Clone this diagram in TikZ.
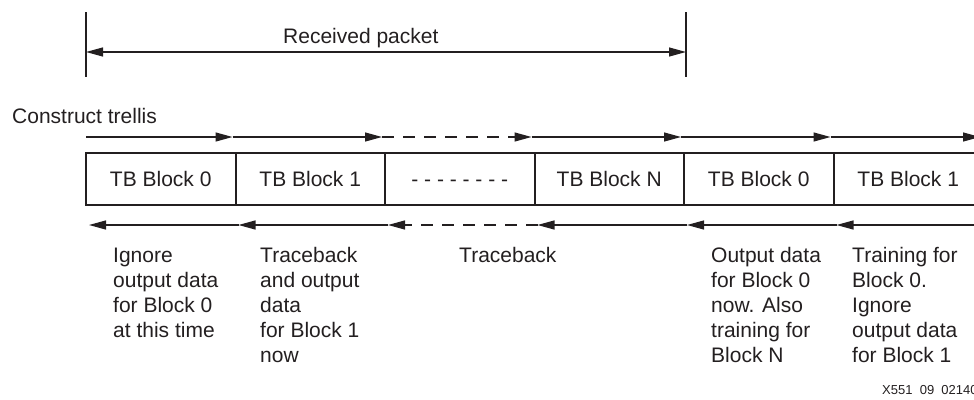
\documentclass[tikz,border=0pt]{standalone}
\usepackage{fontspec}
\setmainfont{Liberation Sans}
\usetikzlibrary{arrows.meta}
\definecolor{ink}{HTML}{231F20}
\begin{document}
\begin{tikzpicture}[x=1pt,y=-1pt,
  every node/.style={text=ink, inner sep=0pt},
  lbl/.style={font=\fontsize{21}{25}\selectfont},
  blockbox/.style={draw=ink, line width=2pt, minimum width=149.5pt,
    minimum height=52pt, lbl, text height=15pt, text depth=0pt},
  flow/.style={draw=ink, line width=1.2pt, -{Triangle[length=17pt,width=9pt]}},
  flowgap/.style={flow, dash pattern=on 12pt off 9pt},
  bar/.style={draw=ink, line width=2pt},
  note/.style={lbl, align=left, anchor=north west},
]
\useasboundingbox (0,0) rectangle (974,399);

% Received packet span
\coordinate (rpl) at (86,52);
\coordinate (rpr) at (686,52);
\draw[bar] ([yshift=40pt]rpl) -- ([yshift=-25pt]rpl);
\draw[bar] ([yshift=40pt]rpr) -- ([yshift=-25pt]rpr);
\draw[draw=ink, line width=1.2pt,
  {Triangle[length=17pt,width=9pt]}-{Triangle[length=17pt,width=9pt]}] (rpl) -- (rpr);
\node[lbl, anchor=base west] (rp) at (283,43) {Received packet};

% Trellis construction (forward direction)
\node[lbl, anchor=base west] (ct) at (12,123) {Construct trellis};
\coordinate (t0) at (86,137);
\coordinate (t1) at (232.5,137);
\coordinate (t2) at (382,137);
\coordinate (t3) at (531.5,137);
\coordinate (t4) at (681,137);
\coordinate (t5) at (830.5,137);
\coordinate (t6) at (980,137);
\draw[flow] (t0) -- (t1);
\draw[flow] (t1) -- (t2);
\draw[flowgap] (t2) -- (t3);
\draw[flow] (t3) -- (t4);
\draw[flow] (t4) -- (t5);
\draw[flow] (t5) -- (t6);

% Traceback blocks
\node[blockbox] (b0) at (160.75,179) {TB Block 0};
\node[blockbox] (b1) at (310.25,179) {TB Block 1};
\node[blockbox] (b2) at (459.75,179) {- - - - - - - -};
\node[blockbox] (b3) at (609.25,179) {TB Block N};
\node[blockbox] (b4) at (758.75,179) {TB Block 0};
\node[blockbox] (b5) at (908.25,179) {TB Block 1};

% Traceback (backward direction)
\coordinate (u0) at (89,225);
\coordinate (u1) at (238.5,225);
\coordinate (u2) at (388,225);
\coordinate (u3) at (537.5,225);
\coordinate (u4) at (687,225);
\coordinate (u5) at (836.5,225);
\coordinate (u6) at (1000,225);
\draw[flow] (u6) -- (u5);
\draw[flow] (u5) -- (u4);
\draw[flow] (u4) -- (u3);
\draw[flowgap] (u3) -- (u2);
\draw[flow] (u2) -- (u1);
\draw[flow] (u1) -- (u0);

% Notes under each block
\node[note] (n0) at (113,247.5) {Ignore\\output data\\for Block 0\\at this time};
\node[note] (n1) at (260,247.5) {Traceback\\and output\\data\\for Block 1\\now};
\node[note] (n2) at (459,247.5) {Traceback};
\node[note] (n3) at (711,247.5) {Output data\\for Block 0\\now. Also\\training for\\Block N};
\node[note] (n4) at (852,247.5) {Training for\\Block 0.\\Ignore\\output data\\for Block 1};

% Figure number
\node[font=\fontsize{13}{15}\selectfont, anchor=base west] (fig) at (882,394)
  {X551\hspace{0.556em}09\hspace{0.556em}021406};
\end{tikzpicture}
\end{document}
